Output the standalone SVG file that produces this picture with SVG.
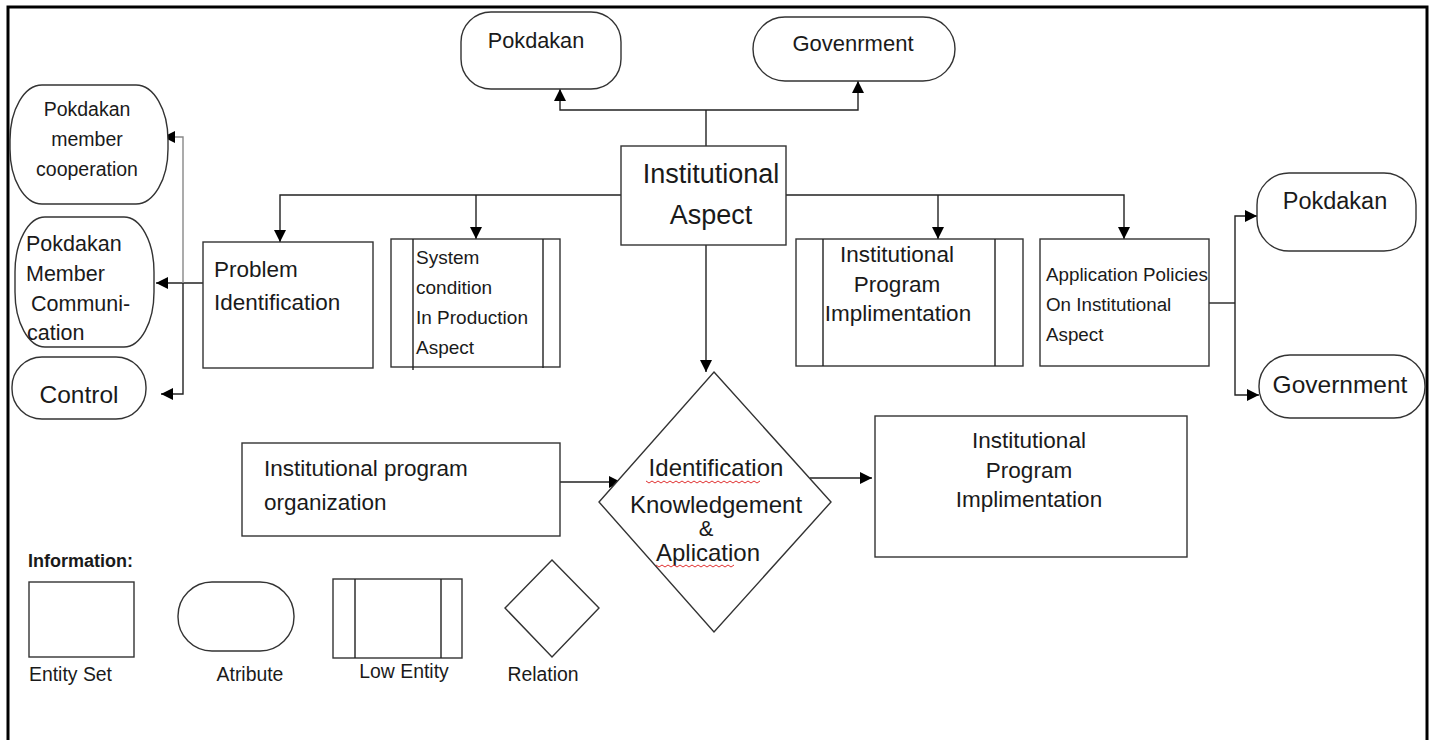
<svg xmlns="http://www.w3.org/2000/svg" width="1433" height="740" viewBox="0 0 1433 740">
<style>
.s{fill:#fff;stroke:#333;stroke-width:1.4}
.c{fill:none;stroke:#222;stroke-width:1.4}
.t{font-family:"Liberation Sans",Arial,sans-serif;fill:#1a1a1a}
.m{text-anchor:middle}
.sq{fill:none;stroke:#e03030;stroke-width:1}
</style>
<defs>
<marker id="ah" markerUnits="userSpaceOnUse" markerWidth="13" markerHeight="12" refX="12" refY="6" orient="auto">
<path d="M0,0 L12,6 L0,12 z" fill="#000"/>
</marker>
</defs>
<rect x="8" y="7" width="1419" height="760" fill="#fff" stroke="#000" stroke-width="3"/>

<g id="connectors">
<path class="c" d="M706,146 V110"/>
<path class="c" d="M706,110 H560 V89" marker-end="url(#ah)"/>
<path class="c" d="M706,110 H858 V81" marker-end="url(#ah)"/>
<path class="c" d="M621,195 H280 V242" marker-end="url(#ah)"/>
<path class="c" d="M476,195 V239" marker-end="url(#ah)"/>
<path class="c" d="M786,195 H1124 V239" marker-end="url(#ah)"/>
<path class="c" d="M938,195 V239" marker-end="url(#ah)"/>
<path class="c" d="M706,245 V372" marker-end="url(#ah)"/>
<path class="c" d="M209,283 H156" marker-end="url(#ah)"/>
<path class="c" style="stroke:#888" d="M183,283 V137 H163" marker-end="url(#ah)"/>
<path class="c" d="M183,283 V394 H161" marker-end="url(#ah)"/>
<path class="c" d="M1209,303 H1235"/>
<path class="c" d="M1235,303 V216 H1257" marker-end="url(#ah)"/>
<path class="c" d="M1235,303 V395 H1259" marker-end="url(#ah)"/>
<path class="c" d="M560,482 H621" marker-end="url(#ah)"/>
<path class="c" d="M810,478 H872" marker-end="url(#ah)"/>
</g>

<g id="pokdakan-top">
<rect class="s" x="461" y="12" width="160" height="77" rx="30" ry="30"/>
<text class="t m" x="536" y="48" font-size="21.7">Pokdakan</text>
</g>
<g id="government-top">
<rect class="s" x="753" y="17" width="202" height="64" rx="32" ry="32"/>
<text class="t m" x="853" y="51" font-size="22">Govenrment</text>
</g>
<g id="institutional-aspect">
<rect class="s" x="621" y="146" width="165" height="99"/>
<text class="t m" x="711" y="183" font-size="27">Institutional</text>
<text class="t m" x="711" y="224" font-size="27">Aspect</text>
</g>
<g id="problem-identification">
<rect class="s" x="203" y="242" width="170" height="126"/>
<text class="t" x="214" y="277" font-size="22.5">Problem</text>
<text class="t" x="214" y="310" font-size="22.5">Identification</text>
</g>
<g id="system-condition">
<rect class="s" x="391" y="239" width="169" height="128"/>
<path class="c" d="M413,239 V370 M543,239 V368"/>
<text class="t" x="416" y="264" font-size="19">System</text>
<text class="t" x="416" y="294" font-size="19">condition</text>
<text class="t" x="416" y="324" font-size="19">In Production</text>
<text class="t" x="416" y="354" font-size="19">Aspect</text>
</g>
<g id="institutional-program-implementation-low">
<rect class="s" x="796" y="239" width="227" height="127"/>
<path class="c" d="M823,239 V366 M995,239 V366"/>
<text class="t m" x="897" y="262" font-size="22.5">Institutional</text>
<text class="t m" x="897" y="292" font-size="22.5">Program</text>
<text class="t m" x="898" y="321" font-size="22.5">Implimentation</text>
</g>
<g id="application-policies">
<rect class="s" x="1040" y="239" width="169" height="127"/>
<text class="t" x="1046" y="281" font-size="18.8">Application Policies</text>
<text class="t" x="1046" y="311" font-size="18.8">On Institutional</text>
<text class="t" x="1046" y="341" font-size="18.8">Aspect</text>
</g>
<g id="pokdakan-right">
<rect class="s" x="1257" y="173" width="159" height="78" rx="32" ry="32"/>
<text class="t m" x="1335" y="209" font-size="23.5">Pokdakan</text>
</g>
<g id="government-right">
<rect class="s" x="1259" y="355" width="166" height="63" rx="31" ry="31"/>
<text class="t m" x="1340" y="393" font-size="24.5">Government</text>
</g>
<g id="member-cooperation">
<rect class="s" x="10" y="85" width="158" height="119" rx="32" ry="55"/>
<text class="t m" x="87" y="116" font-size="19.5">Pokdakan</text>
<text class="t m" x="87" y="146" font-size="19.5">member</text>
<text class="t m" x="87" y="176" font-size="19.5">cooperation</text>
</g>
<g id="member-communication">
<rect class="s" x="15" y="217" width="139" height="130" rx="30" ry="55"/>
<text class="t" x="26" y="251" font-size="21.5">Pokdakan</text>
<text class="t" x="26" y="281" font-size="21.5">Member</text>
<text class="t" x="31" y="311" font-size="21.5">Communi-</text>
<text class="t" x="27" y="340" font-size="21.5">cation</text>
</g>
<g id="control">
<rect class="s" x="12" y="357" width="134" height="62" rx="30" ry="30"/>
<text class="t m" x="79" y="403" font-size="24.5">Control</text>
</g>
<g id="relation-main">
<polygon class="s" points="714,372 831,502 714,632 599,502"/>
<text class="t m" x="716" y="476" font-size="24">Identification</text>
<text class="t m" x="716" y="513" font-size="24">Knowledgement</text>
<text class="t m" x="706" y="536" font-size="22">&amp;</text>
<text class="t m" x="708" y="561" font-size="24">Aplication</text>
<path class="sq" d="M646,481 l3,2 l3,-2 l3,2 l3,-2 l3,2 l3,-2 l3,2 l3,-2 l3,2 l3,-2 l3,2 l3,-2 l3,2 l3,-2 l3,2 l3,-2 l3,2 l3,-2 l3,2 l3,-2 l3,2 l3,-2 l3,2 l3,-2 l3,2 l3,-2 l3,2 l3,-2 l3,2 l3,-2 l3,2 l3,-2 l3,2 l3,-2 l3,2 l3,-2 l3,2 l3,-2"/>
<path class="sq" d="M656,565 l3,2 l3,-2 l3,2 l3,-2 l3,2 l3,-2 l3,2 l3,-2 l3,2 l3,-2 l3,2 l3,-2 l3,2 l3,-2 l3,2 l3,-2 l3,2 l3,-2 l3,2 l3,-2 l3,2 l3,-2 l3,2 l3,-2 l3,2 l3,-2"/>
</g>
<g id="program-organization">
<rect class="s" x="242" y="443" width="318" height="93"/>
<text class="t" x="264" y="476" font-size="22.5">Institutional program</text>
<text class="t" x="264" y="510" font-size="22.5">organization</text>
</g>
<g id="program-implementation">
<rect class="s" x="875" y="416" width="312" height="141"/>
<text class="t m" x="1029" y="448" font-size="22.5">Institutional</text>
<text class="t m" x="1029" y="478" font-size="22.5">Program</text>
<text class="t m" x="1029" y="507" font-size="22.5">Implimentation</text>
</g>

<g id="legend">
<text class="t" x="28" y="567" font-size="18" font-weight="bold">Information:</text>
<rect class="s" x="29" y="582" width="105" height="75"/>
<text class="t" x="29" y="681" font-size="19.4">Entity Set</text>
<rect class="s" x="178" y="582" width="116" height="69" rx="34" ry="34"/>
<text class="t m" x="250" y="681" font-size="19.4">Atribute</text>
<rect class="s" x="333" y="579" width="129" height="79"/>
<path class="c" d="M355,579 V658 M441,579 V658"/>
<text class="t m" x="404" y="678" font-size="19.4">Low Entity</text>
<polygon class="s" points="552,560 599,608 552,657 505,608"/>
<text class="t m" x="543" y="681" font-size="19.4">Relation</text>
</g>
</svg>
